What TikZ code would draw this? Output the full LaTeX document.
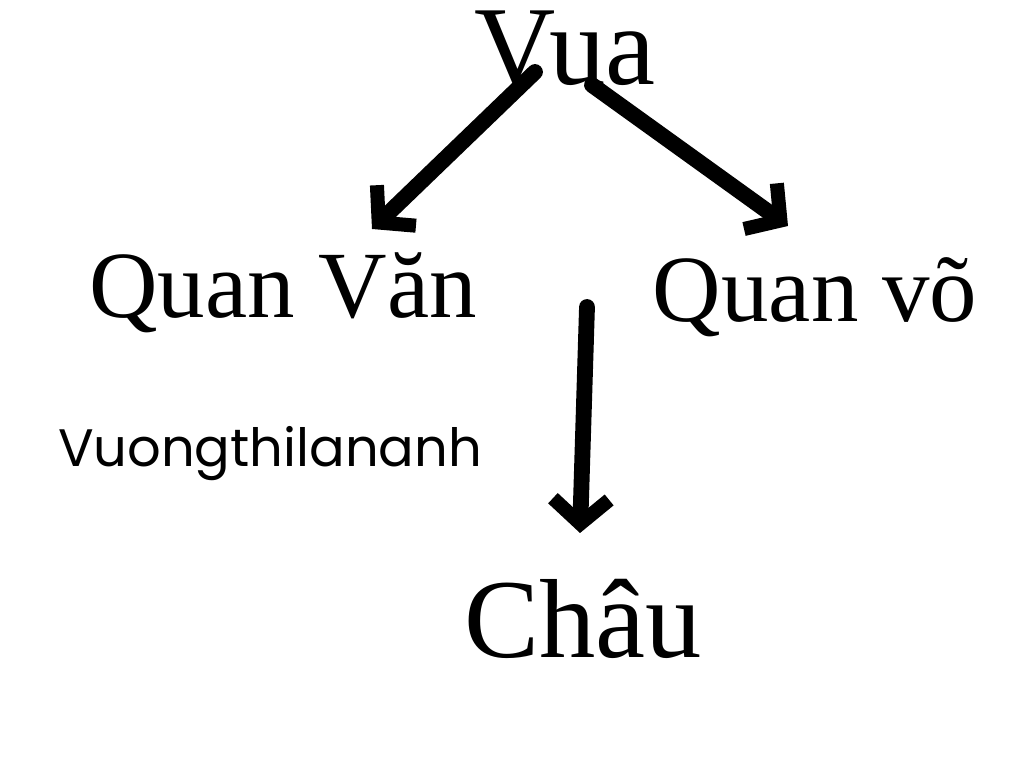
\documentclass[tikz,border=0pt]{standalone}
\usepackage{fontspec}
\setmainfont{Liberation Serif}
\newfontfamily\labsans{Poppins}
\usetikzlibrary{arrows.meta}
\begin{document}
\begin{tikzpicture}
\useasboundingbox (0,0) rectangle (10.24,7.59);
\tikzset{big/.style={inner sep=0pt,font=\fontsize{32}{34}\selectfont},
 mid/.style={inner sep=0pt,font=\fontsize{27}{29}\selectfont},
 arr/.style={line width=4.5pt,line cap=round,-{Straight Barb[length=7pt,width=16pt,line width=4pt]}}}
\node[big] (vua) at (5.65,7.10) {Vua};
\node[mid] (van) at (2.83,4.66) {Quan Văn};
\node[mid] (vo) at (8.15,4.62) {Quan võ};
\node[inner sep=0pt,font=\labsans\fontsize{15}{17}\selectfont] (sig) at (2.70,3.05) {Vuongthilananh};
\node[big] (chau) at (5.83,1.40) {Châu};
\coordinate (a1) at (5.35,6.87); \coordinate (a2) at (3.72,5.30);
\coordinate (b1) at (5.92,6.74); \coordinate (b2) at (7.88,5.33);
\coordinate (c1) at (5.87,4.52); \coordinate (c2) at (5.80,2.26);
\draw[arr] (a1) -- (a2);
\draw[arr] (b1) -- (b2);
\draw[arr] (c1) -- (c2);
\end{tikzpicture}
\end{document}
